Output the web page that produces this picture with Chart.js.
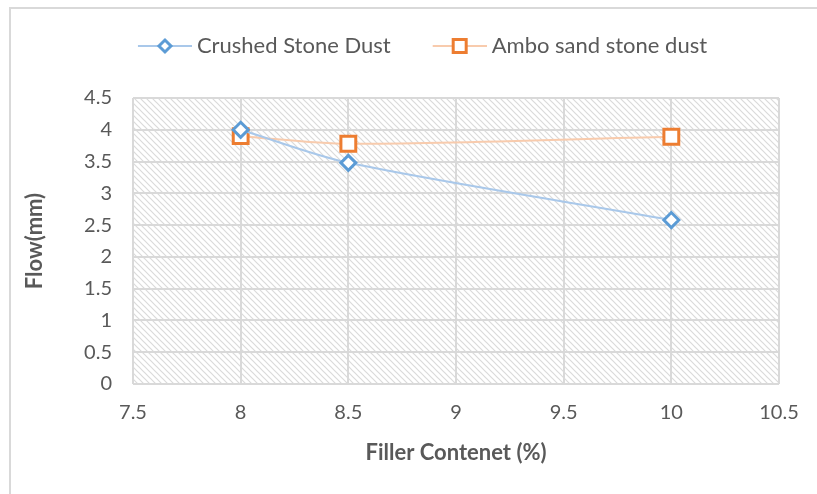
<!DOCTYPE html>
<html>
<head>
<meta charset="utf-8">
<script src="https://cdn.jsdelivr.net/npm/chart.js@4.4.1/dist/chart.umd.min.js"></script>
<style>
  html, body { margin: 0; padding: 0; background: #fff; }
  #wrap { width: 817px; height: 494px; }
</style>
</head>
<body>
<div id="wrap"><canvas id="chart"></canvas></div>
<script>
// data
var fillerContent = [8, 8.5, 10];
var crushedStone = [4.0, 3.48, 2.58];
var amboSand = [3.9, 3.78, 3.89];
var xTicks = [7.5, 8, 8.5, 9, 9.5, 10, 10.5];
var yTicks = [0, 0.5, 1, 1.5, 2, 2.5, 3, 3.5, 4, 4.5];

var FONT = "Lato, 'Open Sans', sans-serif";
var TXT = '#595959';

function pts(xs, ys) {
    var out = [];
    for (var i = 0; i < xs.length; i++) out.push({ x: xs[i], y: ys[i] });
    return out;
}

// hatch pattern for the plot area
function makeHatch() {
    var c = document.createElement('canvas');
    c.width = 6; c.height = 6;
    var g = c.getContext('2d');
    g.fillStyle = '#fff';
    g.fillRect(0, 0, 6, 6);
    g.strokeStyle = '#dadada';
    g.lineWidth = 1.2;
    g.beginPath();
    g.moveTo(-1, -1); g.lineTo(7, 7);
    g.moveTo(-4, 2); g.lineTo(4, 10);
    g.moveTo(2, -4); g.lineTo(10, 4);
    g.stroke();
    return c;
}

// legend icon: line with marker, blank on the left for item spacing
function legendIcon(lineColor, markColor, shape) {
    var c = document.createElement('canvas');
    c.width = 72; c.height = 22;
    var g = c.getContext('2d');
    var x0 = 18, cx = x0 + 27;
    g.strokeStyle = lineColor;
    g.lineWidth = 2;
    g.beginPath(); g.moveTo(x0, 11); g.lineTo(72, 11); g.stroke();
    g.fillStyle = '#fff';
    g.strokeStyle = markColor;
    g.lineWidth = 3;
    g.beginPath();
    if (shape === 'diamond') {
        g.moveTo(cx, 5); g.lineTo(cx + 6, 11); g.lineTo(cx, 17); g.lineTo(cx - 6, 11); g.closePath();
    } else {
        g.rect(cx - 6.5, 4.5, 13, 13);
    }
    g.fill(); g.stroke();
    return c;
}

var hatch = makeHatch();
var icons = [
    legendIcon('#a9c8ea', '#5b9bd5', 'diamond'),
    legendIcon('#f8cbad', '#ed7d31', 'square')
];

var bgPlugin = {
    id: 'bgPlugin',
    afterInit: function(chart) {
        var lg = chart.legend;
        var fit = lg.fit;
        lg.fit = function() {
            fit.call(lg);
            lg.height += 31;
        };
        var draw = lg.draw;
        lg.draw = function() {
            chart.ctx.save();
            chart.ctx.translate(18, 0);
            draw.apply(lg, arguments);
            chart.ctx.restore();
        };
    },
    beforeDraw: function(chart) {
        var ctx = chart.ctx, a = chart.chartArea;
        ctx.save();
        ctx.fillStyle = '#fff';
        ctx.fillRect(0, 0, chart.width, chart.height);
        ctx.strokeStyle = '#d9d9d9';
        ctx.lineWidth = 2;
        ctx.strokeRect(10, 8, chart.width + 20, chart.height + 20);
        ctx.fillStyle = ctx.createPattern(hatch, 'repeat');
        ctx.fillRect(a.left, a.top, a.right - a.left, a.bottom - a.top);
        ctx.restore();
    }
};

new Chart(document.getElementById('chart'), {
    type: 'scatter',
    data: {
        datasets: [{
            label: 'Crushed Stone Dust',
            data: pts(fillerContent, crushedStone),
            showLine: true,
            tension: 0.3,
            borderColor: '#a9c8ea',
            borderWidth: 2,
            pointStyle: 'rectRot',
            pointRadius: 7.5,
            pointBorderWidth: 3,
            pointBorderColor: '#5b9bd5',
            pointBackgroundColor: '#fff'
        }, {
            label: 'Ambo sand stone dust',
            data: pts(fillerContent, amboSand),
            showLine: true,
            tension: 0.3,
            borderColor: '#f8cbad',
            borderWidth: 2,
            pointStyle: 'rect',
            pointRadius: 10.5,
            pointBorderWidth: 3,
            pointBorderColor: '#ed7d31',
            pointBackgroundColor: '#fff'
        }]
    },
    options: {
        responsive: true,
        maintainAspectRatio: false,
        animation: false,
        layout: { padding: { left: 18, right: 38, top: 5, bottom: 20 } },
        plugins: {
            tooltip: { enabled: false },
            legend: {
                position: 'top',
                labels: {
                    usePointStyle: true,
                    pointStyleWidth: 60,
                    color: TXT,
                    font: { family: FONT, size: 22 },
                    padding: 30,
                    generateLabels: function(chart) {
                        return chart.data.datasets.map(function(ds, i) {
                            return {
                                text: ds.label,
                                pointStyle: icons[i],
                                fontColor: TXT,
                                datasetIndex: i,
                                lineWidth: 0,
                                strokeStyle: 'transparent',
                                fillStyle: 'transparent'
                            };
                        });
                    }
                }
            }
        },
        scales: {
            x: {
                type: 'linear',
                min: 7.5, max: 10.5,
                afterBuildTicks: function(s) { s.ticks = xTicks.map(function(v) { return { value: v }; }); },
                afterFit: function(s) { s.height = 90; },
                grid: { color: '#d9d9d9', lineWidth: 2, drawTicks: false },
                border: { display: false },
                ticks: {
                    color: TXT, font: { family: FONT, size: 20 }, padding: 17, maxRotation: 0,
                    callback: function(v) { return String(v); }
                },
                title: { display: true, text: 'Filler Contenet (%)', color: TXT, font: { family: FONT, size: 22, weight: 'bold' }, padding: { top: 4, bottom: 8 } }
            },
            y: {
                min: 0, max: 4.5,
                afterBuildTicks: function(s) { s.ticks = yTicks.map(function(v) { return { value: v }; }); },
                afterFit: function(s) { s.width = 115; },
                grid: { color: '#d9d9d9', lineWidth: 2, drawTicks: false },
                border: { display: false },
                ticks: {
                    color: TXT, font: { family: FONT, size: 20 }, padding: 21,
                    callback: function(v) { return String(v); }
                },
                title: { display: true, text: 'Flow(mm)', color: TXT, font: { family: FONT, size: 22, weight: 'bold' }, padding: { top: 4, bottom: 4 } }
            }
        }
    },
    plugins: [bgPlugin]
});
</script>
</body>
</html>
